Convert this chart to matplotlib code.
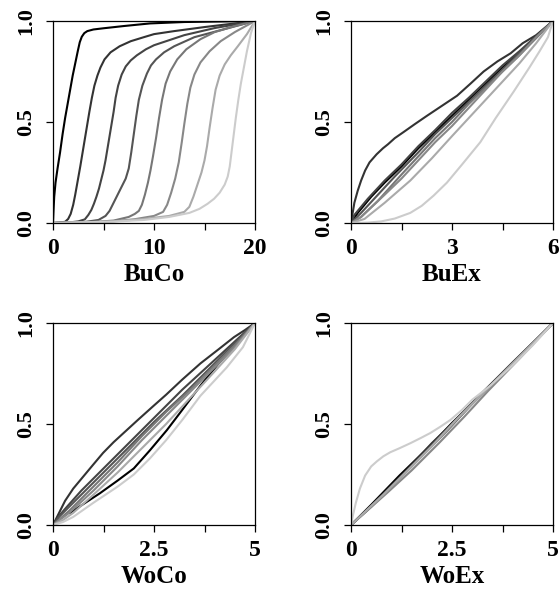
import matplotlib
matplotlib.use("Agg")
import matplotlib.pyplot as plt

plt.rcParams['font.family'] = ['Liberation Serif', 'DejaVu Serif']
plt.rcParams['font.weight'] = 'bold'

grays = ['#000000', '#333333', '#444444', '#555555', '#777777', '#888888', '#aaaaaa', '#cccccc']

# BuCo curves (x 0..20)
buco_x = [
    [0, 0.05, 0.12, 0.25, 0.45, 0.7, 0.95, 1.2, 1.45, 1.7, 1.95, 2.2, 2.45, 2.65, 2.85, 3.1, 3.4, 4.0, 5, 7, 9.6, 13, 20],
    [0, 0.6, 1.2, 1.5, 1.75, 2.0, 2.2, 2.45, 2.7, 3.0, 3.3, 3.6, 3.85, 4.1, 4.4, 4.7, 5.1, 5.7, 6.6, 7.7, 9, 10, 12, 15, 18, 20],
    [0, 1.5, 2.5, 3.15, 3.5, 3.8, 4.05, 4.3, 4.55, 4.8, 5.0, 5.2, 5.4, 5.6, 5.8, 6.0, 6.2, 6.45, 6.8, 7.2, 7.7, 8.3, 9.2, 10, 11.5, 13, 16, 20],
    [0, 3, 4.5, 5.2, 5.6, 6.0, 6.4, 6.8, 7.2, 7.5, 7.75, 8.0, 8.25, 8.5, 8.85, 9.3, 9.7, 10.2, 11, 12, 14, 17, 20],
    [0, 4, 6, 7.5, 8.1, 8.5, 8.8, 9.1, 9.4, 9.65, 9.9, 10.2, 10.5, 10.8, 11.15, 11.6, 12.3, 13.2, 14.6, 16, 18, 20],
    [0, 5, 8, 10, 10.9, 11.3, 11.7, 12.1, 12.45, 12.75, 13.0, 13.3, 13.6, 14.0, 14.6, 15.5, 16.6, 18, 20],
    [0, 6, 9, 11.5, 13.0, 13.5, 13.9, 14.3, 14.7, 15.0, 15.25, 15.5, 15.8, 16.1, 16.5, 17.0, 17.6, 18.3, 19.2, 20],
    [0, 6, 9, 11.5, 13.5, 14.5, 15.3, 15.95, 16.5, 17.0, 17.3, 17.5, 17.7, 17.9, 18.1, 18.35, 18.6, 18.9, 19.2, 19.6, 20],
]
buco_y = [
    [0, 0.06, 0.13, 0.2, 0.27, 0.35, 0.44, 0.52, 0.59, 0.66, 0.73, 0.79, 0.85, 0.895, 0.922, 0.94, 0.95, 0.958, 0.964, 0.975, 0.988, 0.995, 1],
    [0, 0.002, 0.006, 0.02, 0.045, 0.09, 0.14, 0.21, 0.28, 0.37, 0.46, 0.55, 0.62, 0.68, 0.73, 0.77, 0.81, 0.845, 0.875, 0.9, 0.92, 0.935, 0.95, 0.97, 0.988, 1],
    [0, 0.002, 0.008, 0.018, 0.04, 0.065, 0.095, 0.13, 0.17, 0.22, 0.26, 0.31, 0.37, 0.43, 0.49, 0.55, 0.62, 0.68, 0.735, 0.775, 0.805, 0.83, 0.86, 0.88, 0.905, 0.93, 0.965, 1],
    [0, 0.004, 0.015, 0.035, 0.06, 0.1, 0.14, 0.18, 0.22, 0.27, 0.35, 0.44, 0.53, 0.61, 0.68, 0.74, 0.78, 0.81, 0.845, 0.875, 0.92, 0.96, 1],
    [0, 0.005, 0.012, 0.03, 0.045, 0.06, 0.09, 0.14, 0.2, 0.26, 0.33, 0.42, 0.52, 0.61, 0.69, 0.75, 0.81, 0.86, 0.91, 0.945, 0.975, 1],
    [0, 0.005, 0.018, 0.035, 0.055, 0.09, 0.15, 0.22, 0.3, 0.4, 0.49, 0.59, 0.67, 0.735, 0.795, 0.85, 0.9, 0.945, 1],
    [0, 0.008, 0.02, 0.035, 0.055, 0.08, 0.13, 0.19, 0.25, 0.31, 0.38, 0.47, 0.57, 0.66, 0.73, 0.785, 0.83, 0.875, 0.935, 1],
    [0, 0.007, 0.015, 0.03, 0.05, 0.07, 0.095, 0.12, 0.15, 0.19, 0.23, 0.28, 0.36, 0.44, 0.52, 0.61, 0.69, 0.77, 0.85, 0.94, 1],
]

# BuEx curves (x 0..6)
buex_x = [
    [0, 0.2, 0.6, 1.0, 1.5, 2.0, 2.5, 3.0, 3.5, 4.0, 4.5, 5.0, 5.5, 6],
    [0, 0.04, 0.1, 0.2, 0.3, 0.42, 0.55, 0.76, 0.95, 1.1, 1.3, 1.56, 1.9, 2.25, 2.7, 3.15, 3.55, 3.94, 4.35, 4.74, 5.1, 5.5, 6],
    [0, 0.1, 0.5, 1.0, 1.5, 2.0, 2.5, 3.0, 3.5, 4.0, 4.5, 5.0, 5.5, 6],
    [0, 0.3, 0.8, 1.3, 2.0, 2.5, 3.0, 3.5, 4.0, 4.5, 5.0, 5.5, 6],
    [0, 0.3, 0.8, 1.5, 2.0, 2.5, 3.0, 3.5, 4.0, 4.5, 5.0, 5.5, 6],
    [0, 0.3, 1.0, 1.5, 2.0, 2.5, 3.0, 3.5, 4.0, 4.5, 5.0, 5.5, 6],
    [0, 0.4, 1.0, 1.76, 2.4, 3.0, 3.5, 4.0, 4.5, 5.0, 5.5, 6],
    [0, 0.5, 0.9, 1.3, 1.76, 2.1, 2.45, 2.85, 3.3, 3.84, 4.3, 4.83, 5.3, 5.6, 5.85, 6],
]
buex_y = [
    [0, 0.05, 0.13, 0.2, 0.28, 0.37, 0.45, 0.53, 0.61, 0.69, 0.77, 0.84, 0.92, 1],
    [0, 0.04, 0.1, 0.16, 0.21, 0.26, 0.3, 0.34, 0.37, 0.39, 0.42, 0.45, 0.49, 0.53, 0.58, 0.63, 0.69, 0.75, 0.8, 0.84, 0.89, 0.93, 1],
    [0, 0.04, 0.12, 0.21, 0.29, 0.38, 0.46, 0.545, 0.62, 0.7, 0.78, 0.85, 0.925, 1],
    [0, 0.05, 0.14, 0.23, 0.35, 0.44, 0.52, 0.6, 0.68, 0.76, 0.84, 0.92, 1],
    [0, 0.03, 0.11, 0.24, 0.33, 0.42, 0.5, 0.59, 0.67, 0.75, 0.83, 0.915, 1],
    [0, 0.03, 0.14, 0.22, 0.31, 0.4, 0.48, 0.57, 0.66, 0.75, 0.83, 0.92, 1],
    [0, 0.02, 0.1, 0.21, 0.32, 0.43, 0.52, 0.61, 0.7, 0.79, 0.89, 1],
    [0, 0.002, 0.008, 0.022, 0.05, 0.085, 0.135, 0.2, 0.29, 0.4, 0.52, 0.65, 0.77, 0.85, 0.92, 1],
]

# WoCo curves (x 0..5)
woco_x = [
    [0.42, 0.8, 1.16, 1.6, 2.0, 2.4, 2.82, 3.2, 3.65, 4.1, 4.56],
    [0, 0.05, 0.15, 0.3, 0.5, 0.75, 1.0, 1.24, 1.5, 1.8, 2.1, 2.49, 2.8, 3.2, 3.65, 4.1, 4.48, 4.75, 5],
    [0, 0.15, 0.3, 0.7, 1.2, 1.8, 2.5, 3.2, 3.8, 4.4, 5],
    [0, 0.15, 0.3, 0.8, 1.4, 2.0, 2.5, 3.2, 3.8, 4.4, 5],
    [0, 0.2, 0.4, 1.0, 1.6, 2.2, 2.8, 3.4, 4.0, 4.5, 5],
    [0, 0.2, 0.4, 1.0, 1.6, 2.2, 2.8, 3.4, 4.0, 4.5, 5],
    [0, 0.25, 0.5, 1.0, 1.6, 2.2, 2.8, 3.4, 4.0, 4.5, 5],
    [0, 0.25, 0.5, 1.0, 1.6, 2.0, 2.4, 2.8, 3.2, 3.65, 4.3, 4.7, 5],
]
woco_y = [
    [0.06, 0.11, 0.157, 0.22, 0.28, 0.37, 0.47, 0.57, 0.69, 0.8, 0.9],
    [0, 0.02, 0.06, 0.12, 0.18, 0.24, 0.3, 0.357, 0.41, 0.465, 0.52, 0.59, 0.645, 0.72, 0.8, 0.87, 0.93, 0.965, 1],
    [0, 0.045, 0.08, 0.17, 0.27, 0.39, 0.53, 0.67, 0.78, 0.89, 1],
    [0, 0.04, 0.07, 0.17, 0.29, 0.41, 0.51, 0.64, 0.76, 0.88, 1],
    [0, 0.035, 0.07, 0.19, 0.31, 0.44, 0.56, 0.67, 0.79, 0.89, 1],
    [0, 0.03, 0.06, 0.17, 0.29, 0.42, 0.54, 0.66, 0.78, 0.88, 1],
    [0, 0.025, 0.06, 0.15, 0.26, 0.38, 0.5, 0.63, 0.76, 0.87, 1],
    [0, 0.015, 0.04, 0.11, 0.19, 0.25, 0.33, 0.42, 0.52, 0.64, 0.78, 0.88, 1],
]

# WoEx curves (x 0..5)
woex_x = [
    [0, 0.5, 1.2, 2.0, 2.5, 3.2, 4.0, 4.6, 5],
    [0, 0.6, 1.3, 2.0, 2.6, 3.3, 4.0, 5],
    [0, 0.5, 1.0, 1.8, 2.5, 3.2, 4.0, 5],
    [0, 0.7, 1.5, 2.2, 2.9, 3.6, 4.3, 5],
    [0, 0.8, 1.6, 2.4, 3.0, 3.8, 4.5, 5],
    [0, 0.9, 1.5, 2.2, 2.8, 3.4, 4.2, 5],
    [0, 0.8, 1.4, 2.0, 2.6, 3.4, 4.2, 5],
    [0, 0.05, 0.12, 0.22, 0.35, 0.5, 0.64, 0.8, 0.97, 1.2, 1.47, 1.72, 1.96, 2.2, 2.46, 2.75, 3.0, 3.45, 4.0, 4.5, 5],
]
woex_y = [
    [0, 0.1, 0.245, 0.4, 0.505, 0.64, 0.8, 0.92, 1],
    [0, 0.115, 0.255, 0.405, 0.52, 0.665, 0.805, 1],
    [0, 0.09, 0.19, 0.355, 0.5, 0.645, 0.8, 1],
    [0, 0.13, 0.29, 0.435, 0.58, 0.72, 0.86, 1],
    [0, 0.15, 0.31, 0.47, 0.6, 0.76, 0.9, 1],
    [0, 0.16, 0.27, 0.41, 0.535, 0.665, 0.83, 1],
    [0, 0.15, 0.27, 0.39, 0.52, 0.68, 0.84, 1],
    [0, 0.05, 0.11, 0.18, 0.245, 0.29, 0.315, 0.34, 0.36, 0.38, 0.405, 0.43, 0.455, 0.485, 0.52, 0.57, 0.62, 0.69, 0.79, 0.89, 1],
]

panels = [
    ("BuCo", buco_x, buco_y, 20, [0, 5, 10, 15, 20], ['0', '', '10', '', '20']),
    ("BuEx", buex_x, buex_y, 6, [0, 1.5, 3, 4.5, 6], ['0', '', '3', '', '6']),
    ("WoCo", woco_x, woco_y, 5, [0, 1.25, 2.5, 3.75, 5], ['0', '', '2.5', '', '5']),
    ("WoEx", woex_x, woex_y, 5, [0, 1.25, 2.5, 3.75, 5], ['0', '', '2.5', '', '5']),
]

fig = plt.figure(figsize=(5.6, 5.92), dpi=100)
W, H = 560, 592
boxes = [(53, 21), (351, 21), (53, 323), (351, 323)]
bw, bh = 202, 202

for (name, xs, ys, xmax, ticks, labels), (px, py) in zip(panels, boxes):
    ax = fig.add_axes([px / W, 1 - (py + bh) / H, bw / W, bh / H])
    for i in range(len(xs)):
        ax.plot(xs[i], ys[i], color=grays[i], lw=1.5, solid_joinstyle='round')
    ax.set_xlim(0, xmax)
    ax.set_ylim(0, 1)
    ax.set_xticks(ticks)
    ax.set_xticklabels(labels)
    ax.set_yticks([0, 0.5, 1])
    ax.set_yticklabels(['0.0', '0.5', '1.0'], rotation=90, va='center')
    ax.tick_params(direction='out', length=5, width=0.9, pad=6)
    ax.tick_params(axis='x', labelsize=17)
    ax.tick_params(axis='y', labelsize=16, pad=7)
    for s in ax.spines.values():
        s.set_linewidth(0.9)
    ax.set_xlabel(name, fontsize=18, fontweight='bold')
    ax.xaxis.set_label_coords(0.5, -40 / 202)

fig.savefig("out.png", dpi=100)
